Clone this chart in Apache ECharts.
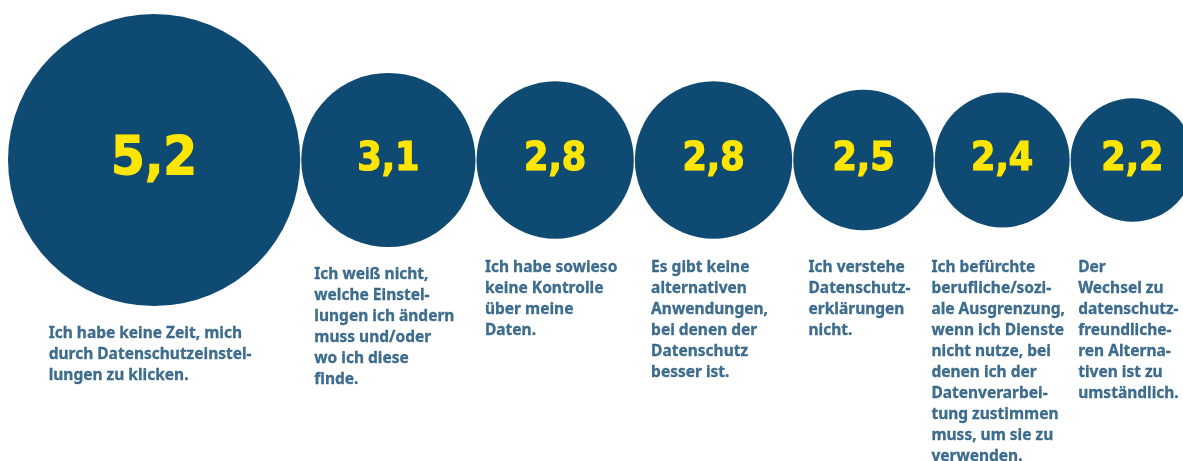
<!DOCTYPE html>
<html>
<head>
<meta charset="utf-8">
<script src="https://cdn.jsdelivr.net/npm/echarts@6/dist/echarts.min.js"></script>
<style>
  html, body { margin: 0; padding: 0; background: #fff; }
  #main { width: 1183px; height: 461px; }
</style>
</head>
<body>
<div id="main"></div>
<script>
// Werte (Durchschnitt) je Grund
var values = [5.2, 3.1, 2.8, 2.8, 2.5, 2.4, 2.2];
var valueLabels = ['5,2', '3,1', '2,8', '2,8', '2,5', '2,4', '2,2'];
var reasons = [
    'Ich habe keine Zeit, mich\ndurch Datenschutzeinstel-\nlungen zu klicken.',
    'Ich weiß nicht,\nwelche Einstel-\nlungen ich ändern\nmuss und/oder\nwo ich diese\nfinde.',
    'Ich habe sowieso\nkeine Kontrolle\nüber meine\nDaten.',
    'Es gibt keine\nalternativen\nAnwendungen,\nbei denen der\nDatenschutz\nbesser ist.',
    'Ich verstehe\nDatenschutz-\nerklärungen\nnicht.',
    'Ich befürchte\nberufliche/sozi-\nale Ausgrenzung,\nwenn ich Dienste\nnicht nutze, bei\ndenen ich der\nDatenverarbei-\ntung zustimmen\nmuss, um sie zu\nverwenden.',
    'Der\nWechsel zu\ndatenschutz-\nfreundliche-\nren Alterna-\ntiven ist zu\numständlich.'
];

var BLUE = '#0f4a73';
var YELLOW = '#ffe600';
var PX = 56.2;       // Pixel je Werteinheit (Kreisdurchmesser)
var GAP = 0.018;     // kleiner Abstand zwischen den Kreisen
var XMAX = 20.9;     // Gitterbreite muss in den Container passen
var CY = 160;        // Mittellinie der Kreise
var CAPTION_TOP = 257;

// Kreise nebeneinander: Mittelpunkt = Summe der vorherigen Durchmesser + halber eigener
var bubbleData = [];
var captionData = [];
var acc = 0;
values.forEach(function (v, i) {
    var cx = acc + v / 2;
    acc += v + GAP;
    var size = v * PX;
    bubbleData.push({
        value: [cx, CY, v],
        symbolSize: size,
        label: { fontSize: Math.max(39, Math.round(size * 0.185)) }
    });
    captionData.push({
        value: [cx, Math.max(CAPTION_TOP, CY + size / 2 + 17)],
        name: reasons[i]
    });
});

var myChart = echarts.init(document.getElementById('main'));
var option = {
    animation: false,
    grid: { left: 8, top: 0, width: XMAX * PX, height: 461 },
    xAxis: { type: 'value', min: 0, max: XMAX, show: false },
    yAxis: { type: 'value', min: 0, max: 461, inverse: true, show: false },
    series: [
        {
            type: 'scatter',
            clip: false,
            silent: true,
            symbol: 'circle',
            itemStyle: { color: BLUE, opacity: 1 },
            label: {
                show: true,
                position: 'inside',
                color: YELLOW,
                fontFamily: '"DejaVu Sans Condensed", "DejaVu Sans", sans-serif',
                fontWeight: 'bold',
                textBorderColor: YELLOW,
                textBorderWidth: 1.2,
                formatter: function (p) { return valueLabels[p.dataIndex]; }
            },
            data: bubbleData
        },
        {
            type: 'scatter',
            clip: false,
            silent: true,
            symbolSize: 1,
            itemStyle: { color: 'rgba(0,0,0,0)' },
            label: {
                show: true,
                position: 'inside',
                align: 'center',
                verticalAlign: 'top',
                offset: [-4, 0],
                formatter: function (p) { return '{t|' + p.name.split('\n').join('}\n{t|') + '}'; },
                rich: {
                    t: {
                        align: 'left',
                        color: BLUE,
                        fontFamily: '"Noto Sans", sans-serif',
                        fontWeight: 'bold',
                        fontSize: 15.5,
                        lineHeight: 21,
                        textBorderColor: BLUE,
                        textBorderWidth: 0.3
                    }
                }
            },
            data: captionData
        }
    ]
};
myChart.setOption(option, true);
</script>
</body>
</html>
